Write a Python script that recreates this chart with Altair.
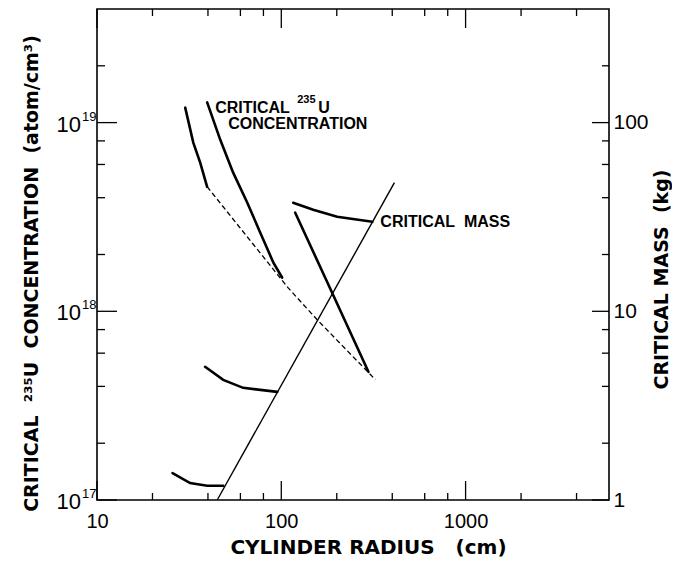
import altair as alt
import pandas as pd

# ---- data ----
# x: cylinder radius (cm)
# concentration curves: critical 235U concentration (atom/cm^3)
conc_a_x = [30.1, 33.3, 36.3, 39.6]
conc_a_y = [1.20e19, 7.83e18, 6.14e18, 4.57e18]
conc_b_x = [39.6, 46.6, 54.8, 65.3, 76.9, 90.6, 101]
conc_b_y = [1.28e19, 8.13e18, 5.43e18, 3.77e18, 2.61e18, 1.81e18, 1.51e18]
conc_c_x = [119, 189, 297]
conc_c_y = [3.33e18, 1.25e18, 4.78e17]
conc_dash_x = [39.6, 109, 157, 324]
conc_dash_y = [4.57e18, 1.33e18, 9.0e17, 4.34e17]

# mass curves: critical mass (kg)
mass_upper_x = [116, 149, 201, 312]
mass_upper_y = [37.6, 34.5, 31.7, 29.8]
mass_mid_x = [38.6, 48.4, 62.1, 95.1]
mass_mid_y = [5.08, 4.33, 3.93, 3.74]
mass_low_x = [25.7, 32.0, 39.6, 48.4]
mass_low_y = [1.39, 1.23, 1.19, 1.19]
mass_line_x = [44.9, 411]
mass_line_y = [1.0, 48.1]

# tick values
x_major = [10, 100, 1000]
x_minor = [20, 40, 60, 80, 200, 400, 600, 800, 2000, 4000]
c_major = [1e17, 1e18, 1e19]
c_major_exp = ["17", "18", "19"]
c_minor = [2e17, 4e17, 6e17, 8e17, 2e18, 4e18, 6e18, 8e18, 2e19]
m_major = [1, 10, 100]
m_minor = [2, 4, 6, 8, 20, 40, 60, 80, 200]

W, H = 512, 491
FONT = "Liberation Sans"
TFONT = "DejaVu Sans"
NB = "\u00a0"

def frame(xs, ys, name):
    return pd.DataFrame({"radius": xs, "value": ys, "series": name,
                         "order": list(range(len(xs)))})


conc_thick = pd.concat([frame(conc_a_x, conc_a_y, "a"),
                        frame(conc_b_x, conc_b_y, "b"),
                        frame(conc_c_x, conc_c_y, "c")])
conc_dash = frame(conc_dash_x, conc_dash_y, "d")
mass_thick = pd.concat([frame(mass_upper_x, mass_upper_y, "u"),
                        frame(mass_mid_x, mass_mid_y, "m"),
                        frame(mass_low_x, mass_low_y, "l")])
mass_thin = frame(mass_line_x, mass_line_y, "s")

xscale = alt.Scale(type="log", domain=[10, 6000], nice=False)
cscale = alt.Scale(type="log", domain=[1e17, 4e19], nice=False)
mscale = alt.Scale(type="log", domain=[1, 400], nice=False)

x_axis = alt.Axis(values=x_major, labelExpr="datum.value", grid=False,
                  ticks=False, tickSize=0, domain=False, labelPadding=11,
                  labelFlush=False,
                  labelFont=FONT, labelFontSize=20, labelColor="black",
                  title="CYLINDER RADIUS" + NB + NB + NB + "(cm)",
                  titleFont=TFONT,
                  titleFontSize=20, titleFontWeight="bold", titleColor="black",
                  titleX=271, titleY=53, titleAlign="center",
                  titleBaseline="alphabetic")

c_axis = alt.Axis(orient="left", values=c_major, labels=False, grid=False,
                  ticks=False, tickSize=0, domain=False,
                  title="CRITICAL" + NB + NB + "²³⁵U" + NB + NB
                  + "CONCENTRATION" + NB + NB + "(atom/cm³)",
                  titleFont=TFONT, titleFontSize=19, titleFontWeight="bold",
                  titleColor="black", titleAngle=270, titleX=-66, titleY=264,
                  titleAlign="center", titleBaseline="middle")

m_axis = alt.Axis(orient="right", values=m_major, labelExpr="datum.value",
                  grid=False, ticks=False, tickSize=0, domain=False,
                  labelFlush=False,
                  labelPadding=4, labelFont=FONT, labelFontSize=21,
                  labelColor="black", labelBaseline="middle",
                  title="CRITICAL MASS" + NB + NB + "(kg)", titleFont=TFONT,
                  titleFontSize=19, titleFontWeight="bold", titleColor="black",
                  titleAngle=270, titleX=52, titleY=270, titleAlign="center",
                  titleBaseline="middle")


def xenc(field="radius"):
    return alt.X(f"{field}:Q", scale=xscale, axis=x_axis)


def cenc(field="value"):
    return alt.Y(f"{field}:Q", scale=cscale, axis=c_axis)


def menc(field="value"):
    return alt.Y(f"{field}:Q", scale=mscale, axis=m_axis)


# ---------- concentration group ----------
l_conc_thick = alt.Chart(conc_thick).mark_line(
    color="black", strokeWidth=2.6, strokeCap="round").encode(
    x=xenc(), y=cenc(), detail="series:N", order="order:Q")

l_conc_dash = alt.Chart(conc_dash).mark_line(
    color="black", strokeWidth=1.3, strokeDash=[5, 3]).encode(
    x=xenc(), y=cenc(), detail="series:N", order="order:Q")

xt_major = pd.DataFrame({"t": x_major})
xt_minor = pd.DataFrame({"t": x_minor})
ct_major = pd.DataFrame({"t": c_major, "exp": c_major_exp})
ct_minor = pd.DataFrame({"t": c_minor})
mt_major = pd.DataFrame({"t": m_major})
mt_minor = pd.DataFrame({"t": m_minor})


def xticks(df, y0, y1):
    return alt.Chart(df).mark_rule(color="black", strokeWidth=1.3).encode(
        x=xenc("t"), y=alt.value(y0), y2=alt.value(y1))


def yticks(df, enc, x0, x1):
    return alt.Chart(df).mark_rule(color="black", strokeWidth=1.3).encode(
        y=enc("t"), x=alt.value(x0), x2=alt.value(x1))


ticks_conc = [
    xticks(xt_major, H, H - 19), xticks(xt_minor, H, H - 7),
    xticks(xt_major, 0, 19), xticks(xt_minor, 0, 7),
    yticks(ct_major, cenc, 0, 20), yticks(ct_minor, cenc, 0, 8),
]

lab_base = alt.Chart(ct_major).mark_text(
    align="right", baseline="middle", font=FONT, fontSize=22,
    color="black", dy=2).encode(
    y=cenc("t"), x=alt.value(-16), text=alt.value("10"))
lab_exp = alt.Chart(ct_major).mark_text(
    align="left", baseline="alphabetic", font=FONT, fontSize=13,
    color="black", dy=-2).encode(
    y=cenc("t"), x=alt.value(-15), text="exp:N")

# annotation anchored at the start of the labelled concentration curve
anchor = pd.DataFrame({"radius": [conc_b_x[0]], "value": [conc_b_y[0]]})


def conc_note(text, dx, dy, size):
    return alt.Chart(anchor).mark_text(
        align="left", baseline="alphabetic", font=FONT, fontSize=size,
        fontWeight="bold", color="black", dx=dx, dy=dy).encode(
        x=xenc(), y=cenc(), text=alt.value(text))


notes_conc = [conc_note("CRITICAL", 8, 11, 16),
              conc_note("235", 90, 1, 11),
              conc_note("U", 111, 11, 16),
              conc_note("CONCENTRATION", 21, 27, 16)]

conc_group = alt.layer(l_conc_thick, l_conc_dash, *ticks_conc, lab_base,
                       lab_exp, *notes_conc)

# ---------- mass group ----------
l_mass_thick = alt.Chart(mass_thick).mark_line(
    color="black", strokeWidth=2.6, strokeCap="round").encode(
    x=xenc(), y=menc(), detail="series:N", order="order:Q")

l_mass_thin = alt.Chart(mass_thin).mark_line(
    color="black", strokeWidth=1.4).encode(
    x=xenc(), y=menc(), detail="series:N", order="order:Q")

ticks_mass = [yticks(mt_major, menc, W, W - 17),
              yticks(mt_minor, menc, W, W - 7)]

mass_anchor = pd.DataFrame({"radius": [mass_upper_x[-1]],
                            "value": [mass_upper_y[-1]]})
note_mass = alt.Chart(mass_anchor).mark_text(
    align="left", baseline="alphabetic", font=FONT, fontSize=16,
    fontWeight="bold", color="black", dx=8, dy=5).encode(
    x=xenc(), y=menc(), text=alt.value("CRITICAL" + NB + NB + "MASS"))

mass_group = alt.layer(l_mass_thick, l_mass_thin, *ticks_mass, note_mass)

chart = alt.layer(conc_group, mass_group).resolve_scale(
    y="independent").properties(
    width=W, height=H, autosize=alt.AutoSizeParams(type="none"),
    padding={"left": 89, "top": 1, "right": 63, "bottom": 57},
    background="white").configure_view(stroke="black", strokeWidth=1.6)

chart.save("out.html", embed_options={"renderer": "svg", "actions": False})
